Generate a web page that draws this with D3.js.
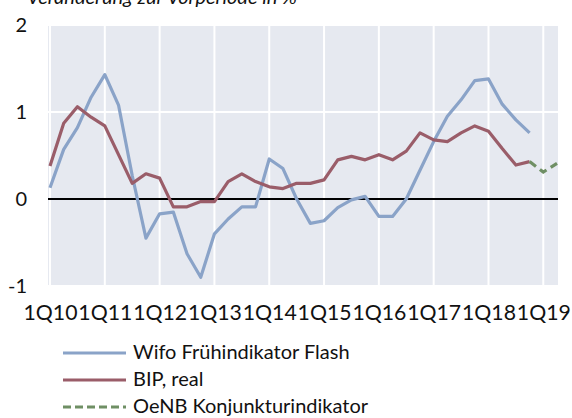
<!DOCTYPE html>
<html>
<head>
<meta charset="utf-8">
<script src="https://cdn.jsdelivr.net/npm/d3@7"></script>
<style>
  html, body { margin: 0; padding: 0; background: #fff; }
  svg { display: block; font-family: "Lato", "Open Sans", sans-serif; }
</style>
</head>
<body>
<svg id="chart" width="572" height="418"></svg>
<script>
// Quarterly growth rates, 1Q10 onwards (change vs. previous quarter, %)
const yearLabels = ["1Q10", "1Q11", "1Q12", "1Q13", "1Q14", "1Q15", "1Q16", "1Q17", "1Q18", "1Q19"];
const yTicks = [-1, 0, 1, 2];

const wifoFlash = [0.13, 0.57, 0.82, 1.17, 1.43, 1.08, 0.27, -0.45,
  -0.17, -0.15, -0.63, -0.90, -0.40, -0.23, -0.09, -0.09,
  0.46, 0.35, 0.00, -0.28, -0.25, -0.10, -0.01, 0.03,
  -0.20, -0.20, 0.00, 0.33, 0.66, 0.95, 1.14, 1.36,
  1.38, 1.09, 0.91, 0.76];

const bipReal = [0.38, 0.87, 1.06, 0.94, 0.84, 0.51, 0.18, 0.29,
  0.24, -0.09, -0.09, -0.03, -0.03, 0.20, 0.29, 0.20,
  0.14, 0.12, 0.18, 0.18, 0.22, 0.45, 0.49, 0.45,
  0.51, 0.45, 0.55, 0.76, 0.68, 0.66, 0.76, 0.84,
  0.78, 0.58, 0.39, 0.43];

// OeNB indicator continues from the last GDP quarter (index 35)
const oenbStart = 35;
const oenbIndicator = [0.43, 0.31, 0.41];

const seriesNames = ["Wifo Frühindikator Flash", "BIP, real", "OeNB Konjunkturindikator"];
const colors = { wifo: "#8aa3c8", bip: "#9a5d69", oenb: "#6f8f64" };

const svg = d3.select("#chart");
const plot = { left: 48, right: 558, top: 25, bottom: 286 };

const x = d3.scaleLinear().domain([0, 37]).range([50, 557]);
const y = d3.scaleLinear().domain([-1, 2]).range([286, 25]);

// title (partly above the visible area)
svg.append("text")
  .attr("x", 27).attr("y", 4)
  .attr("font-size", 20).attr("font-style", "italic")
  .attr("fill", "#111")
  .text("Veränderung zur Vorperiode in %");

// plot background
svg.append("rect")
  .attr("x", plot.left).attr("y", plot.top)
  .attr("width", plot.right - plot.left).attr("height", plot.bottom - plot.top)
  .attr("fill", "#e6e9f0");

// grid
const yearIdx = yearLabels.map((d, i) => i * 4);
svg.append("g").selectAll("line").data(yearIdx).join("line")
  .attr("x1", d => x(d)).attr("x2", d => x(d))
  .attr("y1", plot.top).attr("y2", plot.bottom)
  .attr("stroke", "#fff").attr("stroke-width", 2);
svg.append("g").selectAll("line").data(yTicks.filter(d => d !== 0)).join("line")
  .attr("x1", plot.left).attr("x2", plot.right)
  .attr("y1", d => y(d)).attr("y2", d => y(d))
  .attr("stroke", "#fff").attr("stroke-width", 2);

// y axis labels (plain hyphen for negatives)
const yAxis = d3.axisLeft(y).tickValues(yTicks).tickSize(0).tickPadding(0)
  .tickFormat(d => String(d));
const gy = svg.append("g").attr("transform", "translate(27,0)").call(yAxis);
gy.select(".domain").remove();
gy.selectAll("text").attr("font-size", 20).attr("fill", "#111")
  .attr("font-family", "Lato, sans-serif");

// x axis labels, one per year
const xAxis = d3.axisBottom(x).tickValues(yearIdx).tickSize(0).tickPadding(0)
  .tickFormat((d, i) => yearLabels[i]);
const gx = svg.append("g").attr("transform", "translate(0,305)").call(xAxis);
gx.select(".domain").remove();
gx.selectAll("text").attr("font-size", 21).attr("fill", "#111")
  .attr("font-family", "Lato, sans-serif")
  .attr("dy", "0.72em")
  .attr("textLength", 54).attr("lengthAdjust", "spacingAndGlyphs");

// zero line
svg.append("line")
  .attr("x1", plot.left).attr("x2", plot.right)
  .attr("y1", y(0)).attr("y2", y(0))
  .attr("stroke", "#000").attr("stroke-width", 2);

const line = d3.line().x(d => x(d.i)).y(d => y(d.v));
svg.append("clipPath").attr("id", "plotClip")
  .append("rect").attr("x", plot.left).attr("y", plot.top)
  .attr("width", plot.right - plot.left).attr("height", plot.bottom - plot.top);

const g = svg.append("g").attr("clip-path", "url(#plotClip)");
g.append("path").datum(wifoFlash.map((v, i) => ({ i, v })))
  .attr("d", line).attr("fill", "none")
  .attr("stroke", colors.wifo).attr("stroke-width", 3.2)
  .attr("stroke-linejoin", "round");
g.append("path").datum(bipReal.map((v, i) => ({ i, v })))
  .attr("d", line).attr("fill", "none")
  .attr("stroke", colors.bip).attr("stroke-width", 3.2)
  .attr("stroke-linejoin", "round");
g.append("path").datum(oenbIndicator.map((v, k) => ({ i: oenbStart + k, v })))
  .attr("d", line).attr("fill", "none")
  .attr("stroke", colors.oenb).attr("stroke-width", 3.2)
  .attr("stroke-dasharray", "8,5");

// legend
const legendItems = [
  { name: seriesNames[0], color: colors.wifo, dash: null },
  { name: seriesNames[1], color: colors.bip, dash: null },
  { name: seriesNames[2], color: colors.oenb, dash: "8,4" }
];
const lg = svg.append("g").selectAll("g").data(legendItems).join("g")
  .attr("transform", (d, i) => `translate(0,${359 + i * 27})`);
lg.append("line")
  .attr("x1", 63).attr("x2", 126).attr("y1", -6).attr("y2", -6)
  .attr("stroke", d => d.color).attr("stroke-width", 3)
  .attr("stroke-dasharray", d => d.dash);
lg.append("text")
  .attr("x", 133).attr("y", 0)
  .attr("font-size", 20).attr("fill", "#111")
  .text(d => d.name);
</script>
</body>
</html>
